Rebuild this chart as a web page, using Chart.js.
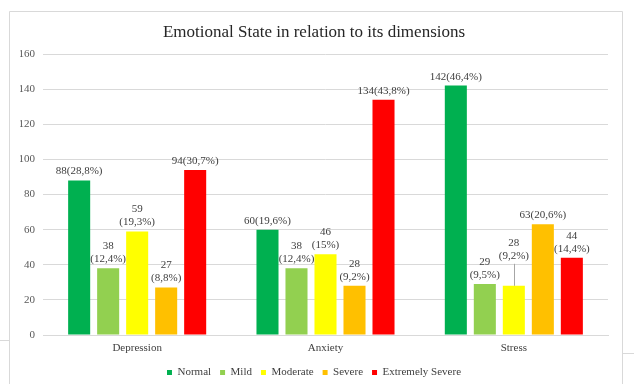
<!DOCTYPE html>
<html>
<head>
<meta charset="utf-8">
<script src="https://cdn.jsdelivr.net/npm/chart.js@4.4.0/dist/chart.umd.min.js"></script>
<style>
  html, body { margin: 0; padding: 0; background: #fff; }
</style>
</head>
<body>
<canvas id="myChart" width="634" height="384"></canvas>
<script>
// data
const categories = ['Depression', 'Anxiety', 'Stress'];
const normal = [88, 60, 142];
const mild = [38, 38, 29];
const moderate = [59, 46, 28];
const severe = [27, 28, 63];
const extreme = [94, 134, 44];

const normalLabels = ['88(28,8%)', '60(19,6%)', '142(46,4%)'];
const mildLabels = ['38\n(12,4%)', '38\n(12,4%)', '29\n(9,5%)'];
const moderateLabels = ['59\n(19,3%)', '46\n(15%)', '28\n(9,2%)'];
const severeLabels = ['27\n(8,8%)', '28\n(9,2%)', '63(20,6%)'];
const extremeLabels = ['94(30,7%)', '134(43,8%)', '44\n(14,4%)'];

const yMin = 0;
const yMax = 160;
const yStep = 20;

const FONT = "'Liberation Serif', 'Times New Roman', serif";
Chart.defaults.font.family = FONT;

// frame round the chart, like the office export
const frame = {
  id: 'frame',
  beforeDraw(chart) {
    const ctx = chart.ctx;
    ctx.save();
    ctx.fillStyle = '#fff';
    ctx.fillRect(0, 0, chart.width, chart.height);
    ctx.strokeStyle = '#d9d9d9';
    ctx.lineWidth = 1;
    ctx.beginPath();
    ctx.moveTo(9.5, chart.height);
    ctx.lineTo(9.5, 11.5);
    ctx.lineTo(622.5, 11.5);
    ctx.lineTo(622.5, chart.height);
    ctx.moveTo(0, 340.5);
    ctx.lineTo(9, 340.5);
    ctx.moveTo(623, 353.5);
    ctx.lineTo(634, 353.5);
    ctx.stroke();
    ctx.restore();
  }
};

// value labels above the bars
const barLabels = {
  id: 'barLabels',
  afterDatasetsDraw(chart) {
    const ctx = chart.ctx;
    ctx.save();
    ctx.font = '11px ' + FONT;
    ctx.fillStyle = '#404040';
    ctx.textAlign = 'center';
    ctx.textBaseline = 'middle';
    chart.data.datasets.forEach((ds, di) => {
      const meta = chart.getDatasetMeta(di);
      meta.data.forEach((bar, i) => {
        const lines = ds.valueLabels[i].split('\n');
        let bottom = bar.y - 9;
        if (ds.leaderAt === i) {
          bottom -= 21;
          ctx.strokeStyle = '#a6a6a6';
          ctx.lineWidth = 1;
          ctx.beginPath();
          ctx.moveTo(Math.round(bar.x) + 0.5, bottom + 8);
          ctx.lineTo(Math.round(bar.x) + 0.5, bar.y);
          ctx.stroke();
        }
        for (let k = lines.length - 1; k >= 0; k--) {
          ctx.fillText(lines[k], bar.x, bottom - (lines.length - 1 - k) * 13);
        }
      });
    });
    ctx.restore();
  }
};

const ctx = document.getElementById('myChart').getContext('2d');
new Chart(ctx, {
  type: 'bar',
  data: {
    labels: categories,
    datasets: [
      { label: 'Normal', data: normal, valueLabels: normalLabels, backgroundColor: '#00B050' },
      { label: 'Mild', data: mild, valueLabels: mildLabels, backgroundColor: '#92D050' },
      { label: 'Moderate', data: moderate, valueLabels: moderateLabels, backgroundColor: '#FFFF00', leaderAt: 2 },
      { label: 'Severe', data: severe, valueLabels: severeLabels, backgroundColor: '#FFC000' },
      { label: 'Extremely Severe', data: extreme, valueLabels: extremeLabels, backgroundColor: '#FF0000' }
    ]
  },
  options: {
    responsive: false,
    animation: false,
    devicePixelRatio: 1,
    categoryPercentage: 0.77,
    barPercentage: 0.76,
    layout: { padding: { top: 10, right: 26, bottom: -4, left: 20 } },
    plugins: {
      title: {
        display: true,
        text: 'Emotional State in relation to its dimensions',
        color: '#262626',
        font: { size: 17, weight: 'normal', family: FONT },
        padding: { top: 12, bottom: 11.6 }
      },
      legend: {
        position: 'bottom',
        labels: {
          boxWidth: 5,
          boxHeight: 5,
          padding: 9,
          color: '#404040',
          font: { size: 11, family: FONT }
        }
      },
      tooltip: { enabled: false }
    },
    scales: {
      x: {
        grid: { display: false, drawTicks: false },
        border: { display: true, color: '#d9d9d9' },
        ticks: { color: '#404040', padding: 7, font: { size: 11, family: FONT } },
        afterFit(s) { s.height = 23; }
      },
      y: {
        min: yMin,
        max: yMax,
        grid: { color: '#d9d9d9', drawTicks: false },
        border: { display: false },
        ticks: { stepSize: yStep, color: '#595959', padding: 8, font: { size: 11, family: FONT } },
        afterFit(s) { s.width = 23; }
      }
    }
  },
  plugins: [frame, barLabels]
});
</script>
</body>
</html>
